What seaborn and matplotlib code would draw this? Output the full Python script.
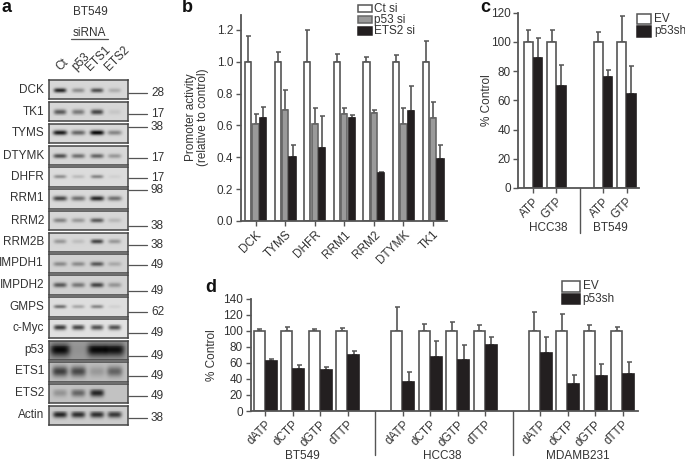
import matplotlib
matplotlib.use('Agg')
import matplotlib.pyplot as plt
import numpy as np
import pandas as pd
import seaborn as sns

# panel a, western blots
blot_names = ['DCK', 'TK1', 'TYMS', 'DTYMK', 'DHFR', 'RRM1', 'RRM2', 'RRM2B',
              'IMPDH1', 'IMPDH2', 'GMPS', 'c-Myc', 'p53', 'ETS1', 'ETS2', 'Actin']
blot_sizes = ['28', '17', '38', '17', '17', '98', '38', '38',
              '49', '49', '62', '49', '49', '49', '49', '38']
lane_names = ['Ct', 'p53', 'ETS1', 'ETS2']
# band strength per lane, read by eye
band_strength = [[.85, .35, .65, .2], [.6, .45, .7, .08], [.9, .55, 1, .4], [.65, .5, .55, .3],
                 [.35, .15, .4, .05], [.7, .5, .85, .5], [.4, .3, .6, .15], [.3, .12, .7, .3],
                 [.35, .35, .6, .2], [.6, .45, .7, .3], [.5, .25, .4, .06], [.75, .7, .65, .65],
                 [1, .05, 1, .95], [.7, .65, .2, .5], [.25, .5, .85, 0], [.85, .8, .8, .75]]
blot_shade = [.84, .84, .85, .84, .86, .85, .84, .84, .82, .82, .87, .88, .6, .74, .76, .8]
band_thick = [.12, .14, .13, .12, .1, .13, .12, .12, .12, .13, .1, .14, .34, .27, .2, .17]
band_wide = [.08, .08, .09, .085, .08, .09, .085, .08, .085, .085, .08, .08, .125, .1, .09, .09]

# panel b
genes = ['DCK', 'TYMS', 'DHFR', 'RRM1', 'RRM2', 'DTYMK', 'TK1']
ct_si = [1, 1, 1, 1, 1, 1, 1]
ct_si_top = [1.165, 1.06, 1.2, 1.05, 1.03, 1.04, 1.13]
p53_si = [.61, .70, .61, .67, .68, .61, .65]
p53_si_top = [.67, .825, .71, .71, .70, .71, .75]
ets2_si = [.65, .40, .46, .65, .30, .69, .39]
ets2_si_top = [.715, .48, .66, .665, .305, .85, .475]

# panel c
c_names = ['ATP', 'GTP', 'ATP', 'GTP']
c_cells = ['HCC38', 'HCC38', 'BT549', 'BT549']
c_ev = [100, 100, 100, 100]
c_ev_top = [108, 108, 107, 118]
c_sh = [89, 70, 76, 64.5]
c_sh_top = [103, 84, 81, 83.5]

# panel d
d_names = ['dATP', 'dCTP', 'dGTP', 'dTTP'] * 3
d_cells = ['BT549'] * 4 + ['HCC38'] * 4 + ['MDAMB231'] * 4
d_ev = [100] * 12
d_ev_top = [102, 105, 102, 103, 130, 109, 111, 107, 123, 121, 107, 105]
d_sh = [62, 52, 51, 70, 36, 67, 64, 82, 72, 33.5, 44, 46]
d_sh_top = [65, 57.5, 55, 75, 49, 87, 82, 92, 92, 45, 58, 61]

W, H = 685, 462
INK = '#333333'
LINE = '#555555'

sns.set_style('ticks')
plt.rcParams['font.family'] = ['Liberation Sans', 'DejaVu Sans']
plt.rcParams['font.size'] = 8.5
plt.rcParams['text.color'] = INK
plt.rcParams['axes.labelcolor'] = INK
plt.rcParams['xtick.color'] = LINE
plt.rcParams['ytick.color'] = LINE
plt.rcParams['xtick.labelcolor'] = INK
plt.rcParams['ytick.labelcolor'] = INK

fig = plt.figure(figsize=(W / 100, H / 100), dpi=100)


def px_axes(left, top, right, bottom):
    return fig.add_axes([left / W, 1 - bottom / H, (right - left) / W, (bottom - top) / H])


# everything typed in pixels goes on this one
ann = fig.add_axes([0, 0, 1, 1], zorder=10)
ann.set_xlim(0, W)
ann.set_ylim(H, 0)
ann.axis('off')


def grouped_bars(ax, keys, order, series, tops, colors, edges, width, gap):
    frames = []
    for name, vals in series.items():
        frames.append(pd.DataFrame({'key': keys, 'value': vals, 'series': name}))
    df = pd.concat(frames)
    sns.barplot(data=df, x='key', y='value', hue='series', order=order, hue_order=list(series),
                palette=colors, errorbar=None, width=width, gap=gap, saturation=1,
                edgecolor=LINE, linewidth=1.2, ax=ax)
    # error bars only go up
    for cont, name, top, edge in zip(ax.containers, series, tops, edges):
        xs = [b.get_x() + b.get_width() / 2 for b in cont]
        ys = np.array(series[name], dtype=float)
        ups = np.array(top) - ys
        ax.errorbar(xs, ys, yerr=[np.zeros(len(ups)), ups], fmt='none', ecolor=LINE,
                    elinewidth=1.2, capsize=1.8, capthick=1.1, zorder=1)
        for b in cont:
            b.set_edgecolor(edge)
            b.set_zorder(2)
    ax.legend_.remove()
    sns.despine(ax=ax)
    for s in ['left', 'bottom']:
        ax.spines[s].set_linewidth(1.3)
        ax.spines[s].set_color(LINE)
    ax.tick_params(axis='both', length=3.5, width=1, pad=2, labelsize=8.5)
    ax.set_xlabel('')
    ax.set_ylabel('')


def rotate_labels(ax, ticks, labels):
    ax.set_xticks(ticks)
    ax.set_xticklabels(labels, rotation=45, ha='right', rotation_mode='anchor')


def legend_boxes(x0, x1, rows, labels, colors, edges, text_x):
    for (y0, y1), lab, col, edge in zip(rows, labels, colors, edges):
        ann.add_patch(plt.Rectangle((x0, y0), x1 - x0, y1 - y0, facecolor=col, edgecolor=edge, lw=1.1))
        ann.text(text_x, (y0 + y1) / 2, lab, ha='left', va='center')


# panel a
blot_tops = [80, 102, 124, 146, 167.3, 189.3, 210.7, 232.7, 254, 275.3, 297.3, 318.7, 340.7, 362.3, 383.7, 405.7]
blot_h = 19.3
label_y = [90, 112, 133, 155.7, 177, 198, 220.7, 242, 263, 285, 306.7, 328, 350, 371, 393, 414.7]
size_y = [93.3, 114, 126.7, 158, 178.3, 190, 225.7, 245.3, 265, 291, 312, 333, 356, 375.7, 396, 417.7]
band_y = [.52, .5, .43, .5, .48, .47, .52, .47, .5, .5, .48, .47, .48, .47, .5, .48]
lane_x = [.136, .369, .61, .835]

for i, name in enumerate(blot_names):
    ax = px_axes(49.3, blot_tops[i], 128, blot_tops[i] + blot_h)
    gx, gy = np.meshgrid(np.linspace(0, 1, 79), np.linspace(0, 1, 20))
    img = np.full(gx.shape, blot_shade[i], dtype=float)
    for lx, s in zip(lane_x, band_strength[i]):
        blob = np.exp(-((gx - lx) / band_wide[i]) ** 4 - ((gy - band_y[i]) / band_thick[i]) ** 2)
        img -= s * blot_shade[i] * .95 * blob
    sns.heatmap(np.clip(img, 0, 1), cmap='gray', vmin=0, vmax=1, cbar=False,
                xticklabels=False, yticklabels=False, ax=ax)
    for s in ax.spines.values():
        s.set_visible(True)
        s.set_color('#444444')
        s.set_linewidth(1.1)
    ann.text(44, label_y[i], name, ha='right', va='center')
    ann.plot([128, 147], [size_y[i], size_y[i]], color=LINE, lw=.9)
    ann.text(151, size_y[i], blot_sizes[i], ha='left', va='center')

ann.text(90, 11.7, 'BT549', ha='center', va='center')
ann.text(89, 32.5, 'siRNA', ha='center', va='center')
ann.plot([71, 108], [39, 39], color=LINE, lw=.9)
for x, lab in zip([62, 81, 98, 117], lane_names):
    ann.text(x, 73, lab, rotation=45, ha='center', va='bottom', rotation_mode='default')

# panel b
ax_b = px_axes(241, 15, 447, 221)
grouped_bars(ax_b, genes, genes, {'Ct si': ct_si, 'p53 si': p53_si, 'ETS2 si': ets2_si},
             [ct_si_top, p53_si_top, ets2_si_top],
             {'Ct si': 'white', 'p53 si': '#9a9a9a', 'ETS2 si': '#231f20'},
             [LINE, '#666666', '#231f20'], .75, .15)
ax_b.set_xlim(-.49, 6.47)
ax_b.set_ylim(0, 1.294)
ax_b.set_yticks([0, .2, .4, .6, .8, 1, 1.2])
ax_b.set_yticklabels(['0.0', '0.2', '0.4', '0.6', '0.8', '1.0', '1.2'])
rotate_labels(ax_b, range(len(genes)), genes)
ann.text(197, 117, 'Promoter activity\n(relative to control)', rotation=90, ha='center', va='center',
         linespacing=1.1)
legend_boxes(357.7, 371.7, [(4.7, 12.3), (16, 23.3), (27.3, 35)], ['Ct si', 'p53 si', 'ETS2 si'],
             ['white', '#9a9a9a', '#231f20'], [LINE, '#666666', '#231f20'], 374)

# panel c
c_keys = [f'{a} {b}' for a, b in zip(c_cells, c_names)]
c_order = c_keys[:2] + ['gap'] + c_keys[2:]
ax_c = px_axes(518.3, 12.7, 639, 188)
grouped_bars(ax_c, c_keys, c_order, {'EV': c_ev, 'p53sh': c_sh}, [c_ev_top, c_sh_top],
             {'EV': 'white', 'p53sh': '#231f20'}, [LINE, '#231f20'], .83, .1)
ax_c.set_xlim(-.63, 4.53)
ax_c.set_ylim(0, 120)
ax_c.set_yticks(range(0, 121, 20))
rotate_labels(ax_c, [0, 1, 3, 4], c_names)
ann.text(487, 100, '% Control', rotation=90, ha='center', va='center')
ann.text(548, 228, 'HCC38', ha='center', va='center')
ann.text(610, 228, 'BT549', ha='center', va='center')
ann.plot([579.8, 579.8], [188, 232.7], color=LINE, lw=1)
legend_boxes(636.7, 650.7, [(14, 24), (26, 36.7)], ['EV', 'p53sh'], ['white', '#231f20'],
             [LINE, '#231f20'], 654)

# panel d
d_keys = [f'{a} {b}' for a, b in zip(d_cells, d_names)]
d_order = d_keys[:4] + ['gap1'] + d_keys[4:8] + ['gap2'] + d_keys[8:]
ax_d = px_axes(250.7, 298.7, 638, 411)
grouped_bars(ax_d, d_keys, d_order, {'EV': d_ev, 'p53sh': d_sh}, [d_ev_top, d_sh_top],
             {'EV': 'white', 'p53sh': '#231f20'}, [LINE, '#231f20'], .87, .08)
ax_d.set_xlim(-.53, 13.55)
ax_d.set_ylim(0, 140)
ax_d.set_yticks(range(0, 141, 20))
rotate_labels(ax_d, [0, 1, 2, 3, 5, 6, 7, 8, 10, 11, 12, 13], d_names)
ann.text(211.7, 355, '% Control', rotation=90, ha='center', va='center')
for x, lab in zip([302.7, 442.3, 578], ['BT549', 'HCC38', 'MDAMB231']):
    ann.text(x, 455.7, lab, ha='center', va='center')
for x in [375.2, 512.7]:
    ann.plot([x, x], [411, 455], color=LINE, lw=1)
legend_boxes(561.7, 580, [(281, 291.7), (294, 304.3)], ['EV', 'p53sh'], ['white', '#231f20'],
             [LINE, '#231f20'], 582.7)

# panel letters
for x, y, lab in [(1, 8, 'a'), (182, 7, 'b'), (480, 7, 'c'), (205, 288, 'd')]:
    ann.text(x, y, lab, fontsize=13, fontweight='bold', color='#111111', ha='left', va='center')

fig.savefig('out.png', dpi=100)
